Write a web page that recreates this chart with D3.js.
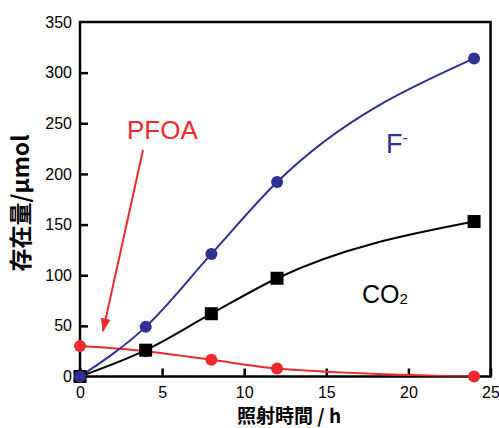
<!DOCTYPE html>
<html>
<head>
<meta charset="utf-8">
<title>PFOA</title>
<style>
body { margin: 0; background: #fff; }
.axis text { font-family: "Liberation Sans", Arial, sans-serif; font-size: 16px; fill: #000; }
.axis path, .axis line { stroke: #000; stroke-width: 2.5px; }
</style>
</head>
<body>
<script src="https://cdnjs.cloudflare.com/ajax/libs/d3/7.8.5/d3.min.js"></script>
<script>
// data
var hours = [0, 4, 8, 12, 24];
var fluoride = [0, 49, 121, 192, 314];
var co2 = [0, 26, 62, 97, 153];
var pfoa = [30, 25, 16.5, 8, 0];
var xTicks = [0, 5, 10, 15, 20, 25];
var yTicks = [0, 50, 100, 150, 200, 250, 300, 350];

var width = 499, height = 428;
var margin = {top: 22, right: 8, bottom: 51, left: 80};

var svg = d3.select("body").append("svg")
    .attr("width", width)
    .attr("height", height);

var x = d3.scaleLinear().domain([0, 25]).range([margin.left, width - margin.right - 0.5]);
var y = d3.scaleLinear().domain([0, 350]).range([height - margin.bottom - 0.5, margin.top]);

var blue = "#2e3192", red = "#ee2a2f";

// frame
svg.append("rect")
    .attr("x", x(0)).attr("y", y(350))
    .attr("width", x(25) - x(0)).attr("height", y(0) - y(350))
    .style("fill", "none").style("stroke", "#000").style("stroke-width", 2.5);

svg.append("g").attr("class", "axis")
    .attr("transform", "translate(0," + y(0) + ")")
    .call(d3.axisBottom(x).tickValues(xTicks).tickSizeInner(-8).tickSizeOuter(0).tickPadding(10))
    .call(function(g) { g.select(".domain").remove(); });

svg.append("g").attr("class", "axis")
    .attr("transform", "translate(" + x(0) + ",0)")
    .call(d3.axisLeft(y).tickValues(yTicks).tickSizeInner(-8).tickSizeOuter(0).tickPadding(8))
    .call(function(g) {
        g.select(".domain").remove();
        g.selectAll(".tick line").filter(function(d) { return d === 0 || d === 350; }).remove();
    });

svg.append("defs").append("clipPath").attr("id", "plot")
    .append("rect")
    .attr("x", x(0)).attr("y", y(350))
    .attr("width", x(25) - x(0)).attr("height", y(0) - y(350));

function series(vals, color) {
    var pts = hours.map(function(h, i) { return [h, vals[i]]; });
    var line = d3.line()
        .x(function(d) { return x(d[0]); })
        .y(function(d) { return y(d[1]); })
        .curve(d3.curveMonotoneX);
    svg.append("path")
        .attr("d", line(pts))
        .attr("clip-path", "url(#plot)")
        .style("fill", "none").style("stroke", color).style("stroke-width", 2);
    return pts;
}

var pPfoa = series(pfoa, red);
var pCo2 = series(co2, "#000");
var pF = series(fluoride, blue);

svg.selectAll(".pfoa").data(pPfoa).enter().append("circle")
    .attr("cx", function(d) { return x(d[0]); })
    .attr("cy", function(d) { return y(d[1]); })
    .attr("r", 6).style("fill", red);

svg.selectAll(".co2").data(pCo2).enter().append("rect")
    .attr("x", function(d) { return x(d[0]) - 6.5; })
    .attr("y", function(d) { return y(d[1]) - 6.5; })
    .attr("width", 13).attr("height", 13).style("fill", "#000");

svg.selectAll(".f").data(pF).enter().append("circle")
    .attr("cx", function(d) { return x(d[0]); })
    .attr("cy", function(d) { return y(d[1]); })
    .attr("r", 6).style("fill", blue);

// labels in the plot
var lab = "Liberation Sans, Arial, sans-serif";
svg.append("text").attr("x", 127).attr("y", 139)
    .style("font-family", lab).style("font-size", "26px").style("fill", red)
    .text("PFOA");

var ft = svg.append("text").attr("x", 386).attr("y", 153)
    .style("font-family", lab).style("font-size", "27px").style("fill", blue);
ft.append("tspan").text("F");
ft.append("tspan").attr("dy", -10).style("font-size", "16px").text("-");

var ct = svg.append("text").attr("x", 362).attr("y", 303)
    .style("font-family", lab).style("font-size", "25px").style("fill", "#000");
ct.append("tspan").text("CO");
ct.append("tspan").attr("dy", 1).style("font-size", "15px").text("2");

// arrow to PFOA curve
svg.append("defs").append("marker")
    .attr("id", "head").attr("viewBox", "0 0 10 10")
    .attr("refX", 9).attr("refY", 5)
    .attr("markerWidth", 7).attr("markerHeight", 7)
    .attr("markerUnits", "strokeWidth")
    .attr("orient", "auto")
    .append("path").attr("d", "M0,1.5L10,5L0,8.5Z").style("fill", red);
svg.append("line")
    .attr("x1", 143).attr("y1", 150).attr("x2", 103).attr("y2", 331)
    .attr("marker-end", "url(#head)")
    .style("stroke", red).style("stroke-width", 2);

// axis titles
svg.append("text")
    .attr("transform", "translate(29," + 203 + ") rotate(-90)")
    .attr("text-anchor", "middle")
    .style("font-family", "'Noto Sans CJK JP', sans-serif")
    .style("font-size", "23px").style("font-weight", "bold")
    .text("存在量/μmol");

svg.append("text")
    .attr("x", 289).attr("y", 423)
    .attr("text-anchor", "middle")
    .style("font-family", "'Noto Sans CJK JP', sans-serif")
    .style("font-size", "19px").style("font-weight", "bold")
    .text("照射時間 / h");
</script>
</body>
</html>
